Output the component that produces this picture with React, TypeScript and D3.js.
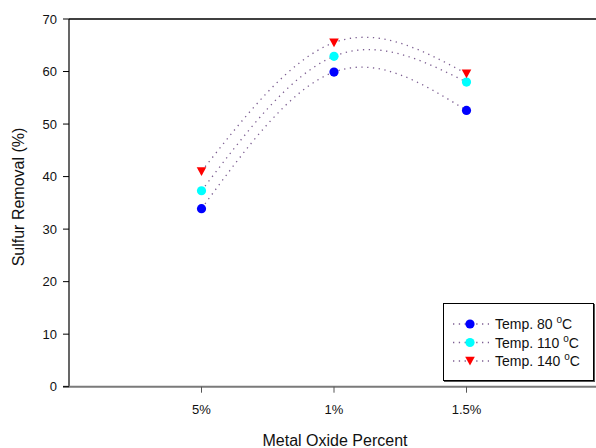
import React from "react";
import * as d3 from "d3";

const categories = ["5%", "1%", "1.5%"];
const temp80 = [33.9, 59.9, 52.6];
const temp110 = [37.3, 62.9, 58.0];
const temp140 = [41.0, 65.5, 59.6];
const yTicks = [0, 10, 20, 30, 40, 50, 60, 70];
const seriesNames = ["Temp. 80 ", "Temp. 110 ", "Temp. 140 "];

const W = 596;
const H = 448;
const left = 69;
const top = 19;
const bottom = 386.7;

export default function App() {
  const x = d3.scaleLinear().domain([0, 4]).range([left, 599]);
  const y = d3.scaleLinear().domain([0, 70]).range([bottom, top]);
  const series = [
    { values: temp80, color: "#0000ff", shape: "circle" },
    { values: temp110, color: "#00ffff", shape: "circle" },
    { values: temp140, color: "#ff0000", shape: "tri" },
  ];
  const line = d3
    .line<number>()
    .x((_, i) => x(i + 1))
    .y((d) => y(d))
    .curve(d3.curveNatural);

  const marker = (shape: string, cx: number, cy: number, color: string, key: string) =>
    shape === "circle" ? (
      <circle key={key} cx={cx} cy={cy} r={4.6} fill={color} />
    ) : (
      <path
        key={key}
        d={`M${cx - 4.8},${cy - 4.2}L${cx + 4.8},${cy - 4.2}L${cx},${cy + 4.6}Z`}
        fill={color}
      />
    );

  const lineColor = "#7d5f92";
  const font = "Arial, 'Liberation Sans', sans-serif";

  return (
    <svg
      width={W}
      height={H}
      style={{ position: "absolute", left: 0, top: 0, background: "#fff" }}
      fontFamily={font}
    >
      {/* frame */}
      <line x1={left} x2={W} y1={top} y2={top} stroke="#000" strokeWidth={1.5} />
      <line x1={left} x2={left} y1={top} y2={bottom} stroke="#000" strokeWidth={1.2} />
      <line x1={left - 6} x2={W} y1={bottom} y2={bottom} stroke="#7a7a7a" strokeWidth={2} />

      {/* y ticks */}
      {yTicks.map((t) => (
        <g key={t}>
          <line x1={left - 6} x2={left} y1={y(t)} y2={y(t)} stroke="#000" />
          <text x={57} y={y(t) + 4.5} fontSize={13} textAnchor="end" fill="#111">
            {t}
          </text>
        </g>
      ))}

      {/* x ticks */}
      {categories.map((c, i) => (
        <g key={c}>
          <line x1={x(i + 1)} x2={x(i + 1)} y1={bottom} y2={bottom + 6} stroke="#555" />
          <text x={x(i + 1)} y={414} fontSize={13} textAnchor="middle" fill="#111">
            {c}
          </text>
        </g>
      ))}

      {/* titles */}
      <text x={335} y={446} fontSize={16} textAnchor="middle" fill="#111">
        Metal Oxide Percent
      </text>
      <text
        transform={`translate(24,${197}) rotate(-90)`}
        fontSize={16}
        textAnchor="middle"
        fill="#111"
      >
        Sulfur Removal (%)
      </text>

      {/* curves */}
      {series.map((s, si) => (
        <path
          key={"l" + si}
          d={line(s.values) || ""}
          fill="none"
          stroke={lineColor}
          strokeWidth={1.3}
          strokeDasharray="1.3 4.5"
        />
      ))}
      {series.map((s, si) =>
        s.values.map((v, i) => marker(s.shape, x(i + 1), y(v), s.color, `m${si}-${i}`))
      )}

      {/* legend */}
      <rect x={443.5} y={303.5} width={150} height={77} fill="#fff" stroke="#000" strokeWidth={1} />
      <line x1={594.5} x2={594.5} y1={304} y2={382} stroke="#555" strokeWidth={1} />
      <line x1={444} x2={595} y1={381.5} y2={381.5} stroke="#555" strokeWidth={1} />
      {series.map((s, si) => {
        const ly = 324 + si * 18.5;
        return (
          <g key={"lg" + si}>
            <line
              x1={453}
              x2={489}
              y1={ly}
              y2={ly}
              stroke={lineColor}
              strokeWidth={1.3}
              strokeDasharray="1.3 4.5"
            />
            {marker(s.shape, 470, ly, s.color, "lm" + si)}
            <text x={495} y={ly + 5} fontSize={14} fill="#111">
              {seriesNames[si]}
              <tspan dy={-6} fontSize={10}>
                o
              </tspan>
              <tspan dy={6}>C</tspan>
            </text>
          </g>
        );
      })}
    </svg>
  );
}
